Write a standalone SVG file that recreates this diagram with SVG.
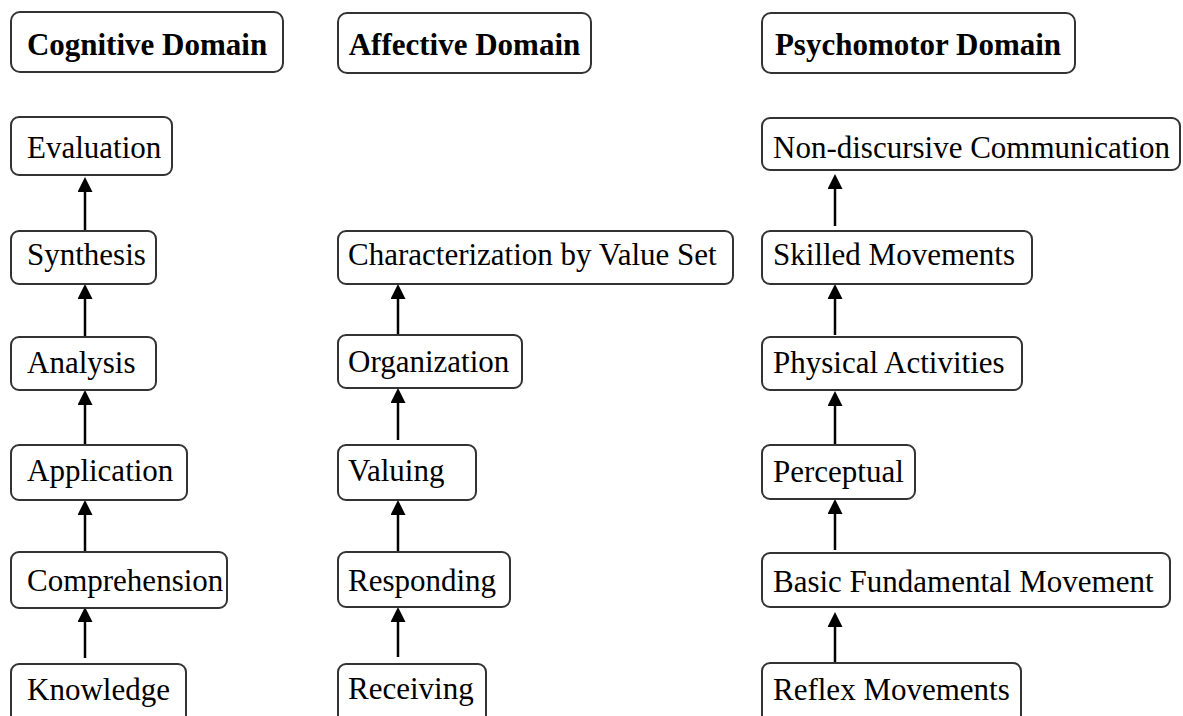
<svg xmlns="http://www.w3.org/2000/svg" width="1183" height="716" viewBox="0 0 1183 716">
<style>
  .box { fill: #fff; stroke: #333; stroke-width: 2; }
  .hd { font-size: 31px; font-weight: bold; fill: #000; text-anchor: middle; }
  .lb { font-size: 31px; fill: #000; }
  .arr { stroke: #000; stroke-width: 2.5; fill: none; marker-end: url(#ah); }
</style>
<defs>
  <marker id="ah" viewBox="0 0 15 15" refX="3" refY="7.5" markerWidth="15" markerHeight="15" markerUnits="userSpaceOnUse" orient="auto">
    <path d="M0,0 L15,7.5 L0,15 z" fill="#000"/>
  </marker>
</defs>
<rect width="1183" height="716" fill="#fff"/>

<g id="connectors">
  <line class="arr" x1="85" y1="231" x2="85" y2="189"/>
  <line class="arr" x1="85" y1="337" x2="85" y2="296"/>
  <line class="arr" x1="85" y1="445" x2="85" y2="402"/>
  <line class="arr" x1="85" y1="553" x2="85" y2="512"/>
  <line class="arr" x1="85" y1="658" x2="85" y2="619"/>

  <line class="arr" x1="398" y1="335" x2="398" y2="296"/>
  <line class="arr" x1="398" y1="440" x2="398" y2="400"/>
  <line class="arr" x1="398" y1="552" x2="398" y2="512"/>
  <line class="arr" x1="398" y1="657" x2="398" y2="619"/>

  <line class="arr" x1="835" y1="226" x2="835" y2="186"/>
  <line class="arr" x1="835" y1="335" x2="835" y2="296"/>
  <line class="arr" x1="835" y1="445" x2="835" y2="403"/>
  <line class="arr" x1="835" y1="550" x2="835" y2="511"/>
  <line class="arr" x1="835" y1="662" x2="835" y2="624"/>
</g>

<g font-family="'Liberation Serif', 'DejaVu Serif', 'Noto Serif', serif">
<g id="h-cognitive"><rect class="box" x="11" y="12" width="272" height="60" rx="9"/><text class="hd" x="147" y="55">Cognitive Domain</text></g>
<g id="h-affective"><rect class="box" x="338" y="13" width="253" height="60" rx="9"/><text class="hd" x="464.5" y="55">Affective Domain</text></g>
<g id="h-psychomotor"><rect class="box" x="762" y="13" width="313" height="60" rx="9"/><text class="hd" x="918" y="55">Psychomotor Domain</text></g>

<g id="n-evaluation"><rect class="box" x="11" y="117" width="161" height="58" rx="8"/><text class="lb" x="27" y="158">Evaluation</text></g>
<g id="n-synthesis"><rect class="box" x="11" y="231" width="145" height="53" rx="8"/><text class="lb" x="27" y="265">Synthesis</text></g>
<g id="n-analysis"><rect class="box" x="11" y="337" width="145" height="53" rx="8"/><text class="lb" x="27" y="373">Analysis</text></g>
<g id="n-application"><rect class="box" x="11" y="445" width="176" height="55" rx="8"/><text class="lb" x="27" y="481">Application</text></g>
<g id="n-comprehension"><rect class="box" x="11" y="552" width="216" height="56" rx="8"/><text class="lb" x="27" y="591">Comprehension</text></g>
<g id="n-knowledge"><rect class="box" x="11" y="664" width="175" height="60" rx="8"/><text class="lb" x="27" y="700">Knowledge</text></g>

<g id="n-characterization"><rect class="box" x="338" y="231" width="395" height="53" rx="8"/><text class="lb" x="348" y="265">Characterization by Value Set</text></g>
<g id="n-organization"><rect class="box" x="338" y="335" width="184" height="53" rx="8"/><text class="lb" x="348" y="372">Organization</text></g>
<g id="n-valuing"><rect class="box" x="338" y="445" width="138" height="55" rx="8"/><text class="lb" x="348" y="481">Valuing</text></g>
<g id="n-responding"><rect class="box" x="338" y="552" width="172" height="55" rx="8"/><text class="lb" x="348" y="591">Responding</text></g>
<g id="n-receiving"><rect class="box" x="338" y="664" width="148" height="60" rx="8"/><text class="lb" x="348" y="699">Receiving</text></g>

<g id="n-nondiscursive"><rect class="box" x="762" y="118" width="418" height="52" rx="8"/><text class="lb" x="773" y="158">Non-discursive Communication</text></g>
<g id="n-skilled"><rect class="box" x="762" y="231" width="270" height="53" rx="8"/><text class="lb" x="773" y="265">Skilled Movements</text></g>
<g id="n-physical"><rect class="box" x="762" y="337" width="260" height="53" rx="8"/><text class="lb" x="773" y="373">Physical Activities</text></g>
<g id="n-perceptual"><rect class="box" x="762" y="445" width="153" height="54" rx="8"/><text class="lb" x="773" y="482">Perceptual</text></g>
<g id="n-basic"><rect class="box" x="762" y="553" width="408" height="54" rx="8"/><text class="lb" x="773" y="592">Basic Fundamental Movement</text></g>
<g id="n-reflex"><rect class="box" x="762" y="663" width="259" height="60" rx="8"/><text class="lb" x="773" y="700">Reflex Movements</text></g>
</g>
</svg>
